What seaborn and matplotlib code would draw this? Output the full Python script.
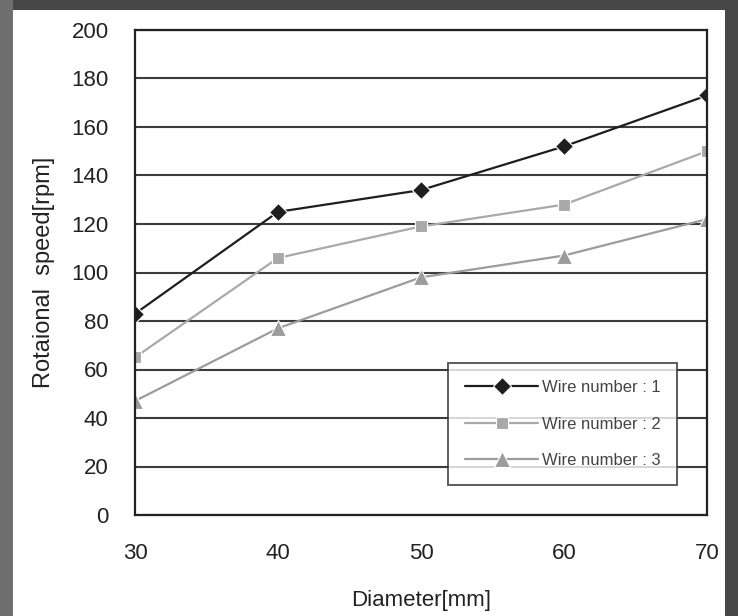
import numpy as np
import pandas as pd
import seaborn as sns
import matplotlib.pyplot as plt
from matplotlib.patches import Rectangle

# values
diameter = [30, 40, 50, 60, 70]
wire1 = [83, 125, 134, 152, 173]
wire2 = [65, 106, 119, 128, 150]
wire3 = [47, 77, 98, 107, 122]
series_names = ["Wire number : 1", "Wire number : 2", "Wire number : 3"]
y_ticks = [0, 20, 40, 60, 80, 100, 120, 140, 160, 180, 200]

df = pd.DataFrame({
    "Diameter": diameter * 3,
    "Speed": wire1 + wire2 + wire3,
    "Series": [series_names[0]] * 5 + [series_names[1]] * 5 + [series_names[2]] * 5,
})

sns.set_style("white")
plt.rcParams["font.family"] = ["Liberation Sans", "DejaVu Sans"]

fig = plt.figure(figsize=(7.38, 6.16), dpi=100, facecolor="#474747")
# framing of the scanned figure
fig.patches.append(Rectangle((0, 0), 13 / 738, 1, transform=fig.transFigure,
                             facecolor="#6e6e6e", edgecolor="none", zorder=-2))
fig.patches.append(Rectangle((13 / 738, 0), 712 / 738, 1 - 10 / 616, transform=fig.transFigure,
                             facecolor="white", edgecolor="none", zorder=-1))

ax = fig.add_axes([135 / 738, 1 - 515 / 616, 572 / 738, 485 / 616])
ax.set_facecolor("white")

palette = {series_names[0]: "#1e1e1e", series_names[1]: "#a9a9a9", series_names[2]: "#9c9c9c"}
markers = {series_names[0]: "D", series_names[1]: "s", series_names[2]: "^"}
sns.lineplot(data=df, x="Diameter", y="Speed", hue="Series", style="Series",
             palette=palette, markers=markers, dashes=False, markersize=9,
             linewidth=1.6, markeredgewidth=0.8, ax=ax)
# triangles look a bit bigger in the original
for line in ax.lines:
    if line.get_marker() == "^":
        line.set_markersize(11)

ax.set_xlim(30, 70)
ax.set_ylim(0, 200)
ax.set_xticks(diameter)
ax.set_yticks(y_ticks)
ax.yaxis.grid(True, color="#3c3c3c", linewidth=1.5)
ax.xaxis.grid(False)
ax.set_axisbelow(True)
for s in ax.spines.values():
    s.set_color("#222222")
    s.set_linewidth(1.6)
ax.tick_params(axis="x", length=0, pad=20, labelsize=16, colors="#222222")
ax.tick_params(axis="y", length=0, pad=19, labelsize=16, colors="#222222")
ax.set_xlabel("Diameter[mm]", fontsize=16, color="#222222", labelpad=19)
ax.set_ylabel("Rotaional  speed[rpm]", fontsize=17, color="#222222", labelpad=12)

leg = ax.legend(loc="lower right", bbox_to_anchor=(0.962, 0.045), fontsize=12,
                frameon=True, fancybox=False, borderpad=1.0, labelspacing=1.3,
                handlelength=4.4, handletextpad=0.2)
leg.get_frame().set_edgecolor("#333333")
leg.get_frame().set_linewidth(1.4)
for t in leg.get_texts():
    t.set_color("#444444")
for h in leg.legend_handles:
    if h.get_marker() == "^":
        h.set_markersize(11)

fig.savefig("out.png", dpi=100, facecolor=fig.get_facecolor())
